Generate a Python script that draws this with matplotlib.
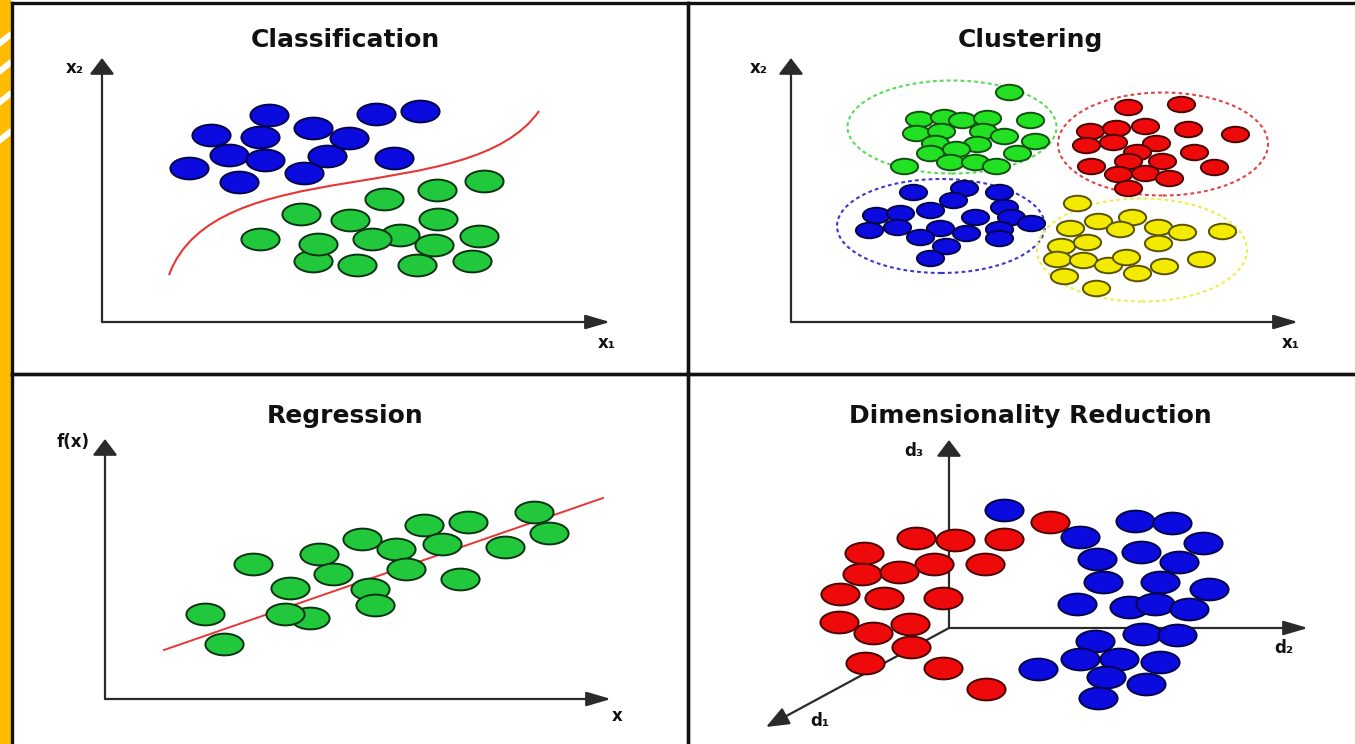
import matplotlib

matplotlib.use("Agg")
import matplotlib.pyplot as plt
from matplotlib.markers import MarkerStyle
from matplotlib.patches import Ellipse, PathPatch, Polygon, Rectangle
from matplotlib.path import Path
from matplotlib.transforms import Affine2D

W, H = 1355, 744

# ---- Classification (x1, x2) ----
class_blue_x = [167, 274, 318, 109, 158, 211, 247, 127, 163, 225, 292, 87, 202, 137]
class_blue_y = [207, 208, 211, 187, 185, 194, 184, 167, 162, 166, 164, 154, 149, 140]
class_green_x = [382, 335, 282, 199, 248, 336, 158, 211, 315, 370, 255, 298, 270, 216, 332, 377]
class_green_y = [141, 132, 123, 108, 102, 103, 83, 61, 57, 61, 57, 87, 83, 78, 77, 86]
# decision boundary, cubic bezier control points
boundary_x = [67, 113, 368, 437]
boundary_y = [47, 172, 112, 211]

# ---- Clustering (x1, x2) ----
clu_green_x = [218, 128, 153, 171, 196, 239, 125, 150, 192, 213, 244, 144, 186, 139, 165, 226, 113, 159, 184, 205]
clu_green_y = [230, 203, 205, 202, 204, 202, 189, 191, 191, 186, 181, 179, 178, 169, 173, 169, 156, 160, 160, 156]
clu_red_x = [337, 390, 299, 325, 354, 397, 444, 295, 322, 365, 346, 403, 300, 337, 371, 423, 327, 354, 378, 337]
clu_red_y = [215, 218, 191, 194, 196, 193, 188, 177, 180, 179, 170, 170, 156, 161, 161, 155, 148, 149, 144, 134]
clu_blue_x = [122, 173, 208, 162, 213, 85, 109, 139, 184, 220, 240, 78, 106, 149, 208, 129, 175, 208, 155, 139]
clu_blue_y = [130, 134, 130, 122, 115, 107, 109, 112, 105, 105, 99, 92, 95, 94, 93, 85, 89, 84, 76, 64]
clu_yellow_x = [286, 279, 307, 341, 329, 367, 391, 431, 270, 296, 367, 266, 292, 317, 335, 346, 373, 410, 273, 305]
clu_yellow_y = [119, 94, 101, 105, 93, 95, 90, 91, 76, 80, 79, 63, 62, 57, 65, 49, 56, 63, 46, 34]
ring_names = ["green", "red", "blue", "yellow"]
ring_cx = [161, 372, 150, 351]
ring_cy = [195, 178, 96, 72]
ring_w = [209, 210, 208, 210]
ring_h = [93, 103, 94, 103]

# ---- Regression (x, f(x)) ----
reg_x = [429, 444, 319, 363, 257, 291, 337, 400, 214, 148, 228, 301, 185, 265, 355, 100, 205, 180, 270, 119]
reg_y = [187, 166, 174, 177, 160, 150, 155, 152, 145, 135, 125, 130, 111, 110, 120, 85, 81, 85, 94, 55]
fit_x = [59, 498]
fit_y = [49, 201]

# ---- Dimensionality reduction (projected d1, d2, d3) ----
dim_red_x = [101, -33, 6, 55, -85, -15, 36, -87, -50, -109, -65, -6, -110, -76, -39, -38, -84, -6, 37]
dim_red_y = [106, 90, 88, 89, 75, 64, 64, 54, 56, 34, 30, 30, 6, -5, 4, -19, -35, -40, -61]
dim_blue_x = [55, 186, 223, 131, 254, 192, 148, 230, 154, 211, 260, 128, 180, 206, 240, 193, 228, 146,
              89, 131, 170, 211, 157, 197, 149]
dim_blue_y = [118, 107, 105, 91, 85, 76, 69, 66, 46, 46, 39, 24, 21, 24, 19, -6, -7, -13,
              -41, -31, -31, -34, -49, -56, -70]

# fill, edge
BLUE = ("#0b0be0", "#05054a")
GREEN = ("#22c83c", "#0c3414")
CGREEN = ("#22e022", "#145014")
RED = ("#ee0a0a", "#4a0505")
YELLOW = ("#f2ea00", "#5a5200")
AXIS = "#2a2a2a"
ring_colors = {"green": "#55dd55", "red": "#e04545", "blue": "#3a3ad0", "yellow": "#eeee50"}

plt.rcParams["font.family"] = ["DejaVu Sans"]

oval = MarkerStyle(Path.unit_circle().transformed(Affine2D().scale(1.0, 0.57)))
BIG = 27.5 ** 2
SMALL = 19.6 ** 2


def panel(fig, left, top, right, bottom, ox, oy, edges):
    ax = fig.add_axes([left / W, 1 - bottom / H, (right - left) / W, (bottom - top) / H])
    ax.set_xlim(left - ox, right - ox)
    ax.set_ylim(oy - bottom, oy - top)
    ax.set_xticks([])
    ax.set_yticks([])
    ax.patch.set_alpha(0)
    for name, spine in ax.spines.items():
        spine.set_visible(name in edges)
        spine.set_linewidth(2.4)
        spine.set_color("#111111")
    return ax


def arrow(ax, start, end, head):
    ax.annotate("", xy=end, xytext=start, zorder=1,
                arrowprops=dict(arrowstyle=head, color=AXIS, lw=1.6,
                                shrinkA=0, shrinkB=0, mutation_scale=20))


UP = "-|>,head_length=0.5,head_width=0.38"
RIGHT = "-|>,head_length=0.75,head_width=0.22"


def label(ax, x, y, s, ha="center"):
    ax.text(x, y, s, ha=ha, va="baseline", fontsize=12, fontweight="bold", color="#111111")


def title(ax, x, y, s):
    ax.text(x, y, s, ha="center", va="baseline", fontsize=18, fontweight="bold", color="#111111")


def dots(ax, xs, ys, colors, size):
    ax.scatter(xs, ys, s=size, marker=oval, c=colors[0], edgecolors=colors[1], linewidths=1.4, zorder=3)


fig = plt.figure(figsize=(W / 100, H / 100), dpi=100)
fig.patch.set_facecolor("white")

# left yellow strip
fig.add_artist(Rectangle((0, 0), 10 / W, 1, transform=fig.transFigure, color="#ffbb00", zorder=0))
for y0 in [38, 66, 97, 135]:
    fig.add_artist(Polygon([(0, 1 - (y0 + 8) / H), (10 / W, 1 - y0 / H), (10 / W, 1 - (y0 - 6) / H),
                            (0, 1 - (y0 + 2) / H)], transform=fig.transFigure, color="white", zorder=0))

# ---- panel 1: classification ----
ax1 = panel(fig, 12, 3, 688, 374, 102, 322, ["top", "left", "right", "bottom"])
arrow(ax1, (0, 0), (0, 264), UP)
arrow(ax1, (0, 0), (508, 0), RIGHT)
label(ax1, -18, 249, "x₂", ha="right")
label(ax1, 505, -26, "x₁")
title(ax1, 243, 275, "Classification")
curve = Path(list(zip(boundary_x, boundary_y)), [Path.MOVETO, Path.CURVE4, Path.CURVE4, Path.CURVE4])
ax1.add_patch(PathPatch(curve, fill=False, edgecolor="#e83535", lw=1.5, zorder=2))
dots(ax1, class_blue_x, class_blue_y, BLUE, BIG)
dots(ax1, class_green_x, class_green_y, GREEN, BIG)

# ---- panel 2: clustering ----
ax2 = panel(fig, 688, 3, 1360, 374, 791, 322, ["top", "left", "bottom"])
arrow(ax2, (0, 0), (0, 264), UP)
arrow(ax2, (0, 0), (507, 0), RIGHT)
label(ax2, -23, 249, "x₂", ha="right")
label(ax2, 500, -26, "x₁")
title(ax2, 239, 275, "Clustering")
for name, cx, cy, w, h in zip(ring_names, ring_cx, ring_cy, ring_w, ring_h):
    ax2.add_patch(Ellipse((cx, cy), w, h, fill=False, edgecolor=ring_colors[name],
                          lw=1.5, linestyle=(0, (1.8, 1.5)), zorder=2))
dots(ax2, clu_green_x, clu_green_y, CGREEN, SMALL)
dots(ax2, clu_red_x, clu_red_y, RED, SMALL)
dots(ax2, clu_blue_x, clu_blue_y, BLUE, SMALL)
dots(ax2, clu_yellow_x, clu_yellow_y, YELLOW, SMALL)

# ---- panel 3: regression ----
ax3 = panel(fig, 12, 374, 688, 748, 105, 699, ["top", "left", "right"])
arrow(ax3, (0, 0), (0, 260), UP)
arrow(ax3, (0, 0), (506, 0), RIGHT)
label(ax3, -15, 252, "f(x)", ha="right")
label(ax3, 512, -22, "x")
title(ax3, 240, 276, "Regression")
ax3.plot(fit_x, fit_y, color="#e83535", lw=1.4, zorder=2)
dots(ax3, reg_x, reg_y, GREEN, BIG)

# ---- panel 4: dimensionality reduction ----
ax4 = panel(fig, 688, 374, 1360, 748, 949, 628, ["top", "left"])
arrow(ax4, (0, 0), (0, 188), UP)
arrow(ax4, (0, 0), (359, 0), RIGHT)
arrow(ax4, (0, 0), (-183, -99), "-|>,head_length=0.7,head_width=0.28")
label(ax4, -26, 172, "d₃", ha="right")
label(ax4, 335, -25, "d₂")
label(ax4, -129, -98, "d₁")
title(ax4, 81, 205, "Dimensionality Reduction")
dots(ax4, dim_red_x, dim_red_y, RED, BIG)
dots(ax4, dim_blue_x, dim_blue_y, BLUE, BIG)

fig.savefig("out.png", dpi=100)
